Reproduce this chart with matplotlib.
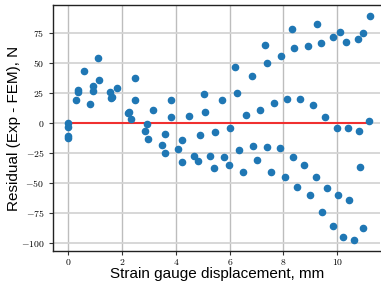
import numpy as np
import matplotlib
matplotlib.use("Agg")
from matplotlib import pyplot as plt
from matplotlib.ticker import FuncFormatter

plt.rcParams['mathtext.fontset'] = 'cm'

# strain gauge displacement (mm) and residual (N)
disp = [0, 0, 0, 0,
        0.28, 0.34, 0.36, 0.59, 0.81, 0.91, 0.93, 1.10, 1.12, 1.56, 1.58, 1.63,
        1.79, 2.20, 2.25, 2.33, 2.46, 2.47, 2.85, 2.93, 2.97, 3.16, 3.47, 3.60,
        3.61, 3.81, 3.83, 4.08, 4.23, 4.23, 4.48, 4.68, 4.82, 4.88, 5.04, 5.10,
        5.25, 5.40, 5.44, 5.71, 5.80, 5.96, 6.03, 6.19, 6.28, 6.36, 6.49, 6.59,
        6.84, 6.88, 7.03, 7.13, 7.30, 7.38, 7.39, 7.54, 7.65, 7.87, 7.90, 8.05,
        8.15, 8.30, 8.35, 8.40, 8.50, 8.63, 8.78, 8.90, 8.98, 9.10, 9.21, 9.23,
        9.38, 9.42, 9.55, 9.63, 9.83, 9.85, 9.99, 10.03, 10.10, 10.22, 10.31,
        10.41, 10.44, 10.62, 10.76, 10.82, 10.85, 10.95, 10.95, 11.17, 11.23]
resid = [0, -4, -11, -12.5,
         18.9, 25.9, 27.2, 43.4, 15.8, 30.6, 26.4, 54.2, 35.6, 25.3, 20.8, 21.7,
         28.6, 8.3, 8.6, 3.4, 37.2, 18.9, -7.0, -1.2, -13.5, 10.3, -19.0, -9.4,
         -25.3, 18.9, 4.5, -22.0, -14.7, -32.5, 5.3, -28.0, -31.7, -10.4, 24.2, 8.6,
         -27.5, -37.9, -8.0, 18.6, -28.3, -35.0, -4.8, 46.4, 24.5, -22.5, -41.5, 6.4,
         38.6, -19.5, -31.0, 10.3, 65.0, 49.8, -20.0, -41.5, 16.7, -21.4, 55.6, -45.2,
         19.5, 78.1, -28.5, 62.0, -53.5, 19.7, -35.0, 63.9, -60.3, 15.0, -45.6, 82.3,
         66.1, -74.3, 4.7, -54.2, -86.4, 71.1, -4.8, -60.3, 75.3, -95.7, 67.5,
         -4.3, -64.4, -97.9, 69.8, -7.2, -36.7, 74.5, -88.0, 1.6, 88.7]

fig = plt.figure(figsize=(3.81, 2.84), dpi=100)
ax = fig.add_axes([0.14, 0.116, 0.858, 0.866])

ax.grid(True, axis='y', color='#d4d4d4', lw=1.3, zorder=0)
ax.grid(True, axis='x', color='#bdbdbd', lw=1.0, zorder=0)
ax.set_axisbelow(True)

ax.plot([0, 11.18], [0, 0], color='#f03030', lw=1.5, zorder=2)
ax.scatter(disp, resid, s=20, color='#1f77b4', zorder=3)

ax.set_xlim(-0.56, 11.6)
ax.set_ylim(-107, 98)
ax.set_xticks([0, 2, 4, 6, 8, 10])
ax.set_yticks([-100, -75, -50, -25, 0, 25, 50, 75])
fmt = FuncFormatter(lambda v, p: r'$%d$' % v)
ax.xaxis.set_major_formatter(fmt)
ax.yaxis.set_major_formatter(fmt)
ax.tick_params(labelsize=7, length=3, width=0.8, color='#333333')
ax.tick_params(axis='x', pad=1.5)

for s in ['left', 'bottom', 'top']:
    ax.spines[s].set_color('#222222')
    ax.spines[s].set_linewidth(1.0)
ax.spines['right'].set_visible(False)

ax.set_xlabel("Strain gauge displacement, mm", family='Liberation Sans', fontsize=11, labelpad=0)
ax.set_ylabel("Residual (Exp - FEM), N", family='Liberation Sans', fontsize=11, labelpad=0)

fig.savefig("out.png", dpi=100)
